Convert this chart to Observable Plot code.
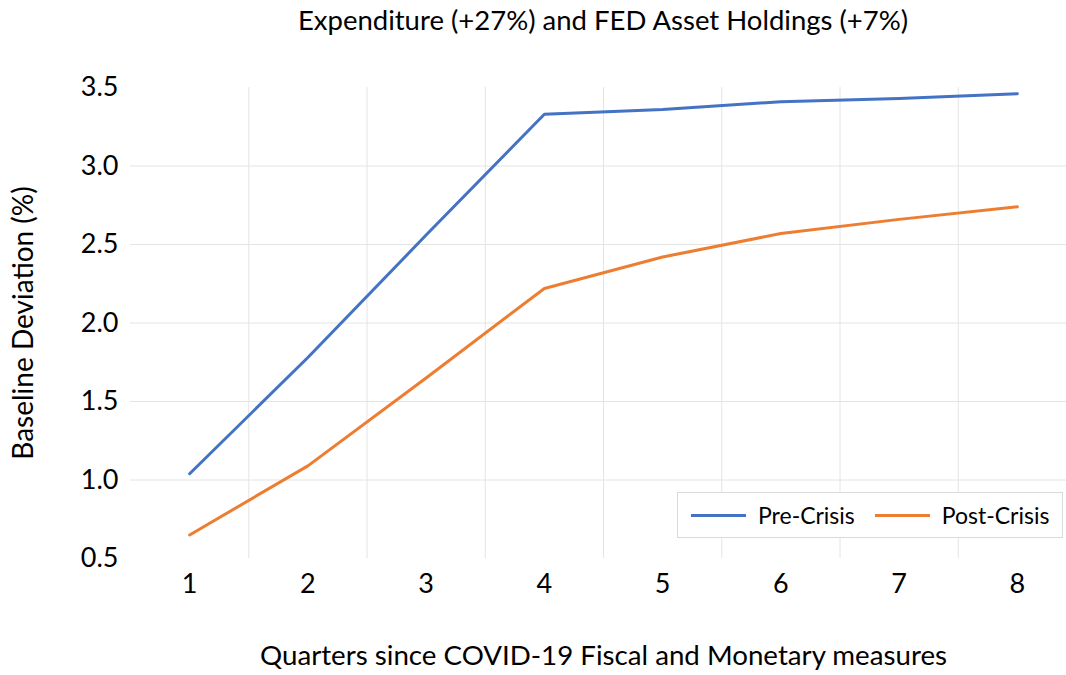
<!DOCTYPE html>
<html>
<head>
<meta charset="utf-8">
<script src="https://cdn.jsdelivr.net/npm/d3@7"></script>
<script src="https://cdn.jsdelivr.net/npm/@observablehq/plot@0.6"></script>
<style>
  html, body { margin: 0; padding: 0; background: #fff; overflow: hidden; }
  #wrap { position: relative; width: 1066px; height: 675px; font-family: Lato, "Open Sans", sans-serif; color: #000; }
  #title { height: 50px; line-height: 40px; text-align: center; font-size: 27.5px; padding-left: 140px; box-sizing: border-box; }
  #legend { position: absolute; left: 677px; top: 492px; width: 386px; height: 46px; border: 1px solid #d9d9d9; background: #fff; box-sizing: border-box; display: flex; align-items: center; font-size: 23px; }
  .item { display: flex; align-items: center; }
  .sw { width: 55px; height: 3px; margin-right: 12px; }
</style>
</head>
<body>
<div id="wrap">
  <div id="title">Expenditure (+27%) and FED Asset Holdings (+7%)</div>
  <div id="chart"></div>
  <div id="legend"></div>
</div>
<script>
const quarters = [1, 2, 3, 4, 5, 6, 7, 8];
const preCrisis = [1.04, 1.78, 2.56, 3.33, 3.36, 3.41, 3.43, 3.46];
const postCrisis = [0.65, 1.09, 1.65, 2.22, 2.42, 2.57, 2.66, 2.74];
const seriesNames = ["Pre-Crisis", "Post-Crisis"];
const seriesColors = ["#4472C4", "#ED7D31"];
const yTicks = [0.5, 1.0, 1.5, 2.0, 2.5, 3.0, 3.5];
const yGrid = [1.0, 1.5, 2.0, 2.5, 3.0];
const xGrid = [1.5, 2.5, 3.5, 4.5, 5.5, 6.5, 7.5, 8.5];
const xLabel = "Quarters since COVID-19 Fiscal and Monetary measures";
const yLabel = "Baseline Deviation (%)";

const data = [];
quarters.forEach((q, i) => {
  data.push({quarter: q, value: preCrisis[i], series: seriesNames[0]});
  data.push({quarter: q, value: postCrisis[i], series: seriesNames[1]});
});

const chart = Plot.plot({
  width: 1066,
  height: 625,
  marginTop: 37,
  marginBottom: 117,
  marginLeft: 130,
  marginRight: -10,
  style: {fontFamily: "Lato, 'Open Sans', sans-serif", fontSize: "26px", color: "#000", background: "#fff"},
  x: {domain: [0.5, 8.5]},
  y: {domain: [0.5, 3.5]},
  color: {domain: seriesNames, range: seriesColors},
  marks: [
    Plot.ruleX(xGrid, {y1: 0.5, y2: 3.5, stroke: "#e4e4e4", strokeWidth: 1}),
    Plot.ruleY(yGrid, {x1: 0.5, x2: 8.5, stroke: "#e4e4e4", strokeWidth: 1}),
    Plot.axisY({ticks: yTicks, tickFormat: d3.format(".1f"), tickSize: 0, tickPadding: 12, fontSize: 27, label: null}),
    Plot.axisX({ticks: quarters, tickFormat: d3.format("d"), tickSize: 0, tickPadding: 15, fontSize: 27, label: null}),
    Plot.lineY(data, {x: "quarter", y: "value", z: "series", stroke: "series", strokeWidth: 3}),
    Plot.text([yLabel], {text: d => d, frameAnchor: "left", rotate: -90, dx: -106, fontSize: 28, textAnchor: "middle", lineAnchor: "middle"}),
    Plot.text([xLabel], {text: d => d, frameAnchor: "bottom", dy: 98, fontSize: 27.7, textAnchor: "middle", lineAnchor: "middle", dx: 0})
  ]
});
document.getElementById("chart").appendChild(chart);

const legend = document.getElementById("legend");
seriesNames.forEach((name, i) => {
  const item = document.createElement("div");
  item.className = "item";
  item.style.marginLeft = i === 0 ? "13px" : "20px";
  const sw = document.createElement("span");
  sw.className = "sw";
  sw.style.background = seriesColors[i];
  const label = document.createElement("span");
  label.textContent = name;
  item.appendChild(sw);
  item.appendChild(label);
  legend.appendChild(item);
});
</script>
</body>
</html>
